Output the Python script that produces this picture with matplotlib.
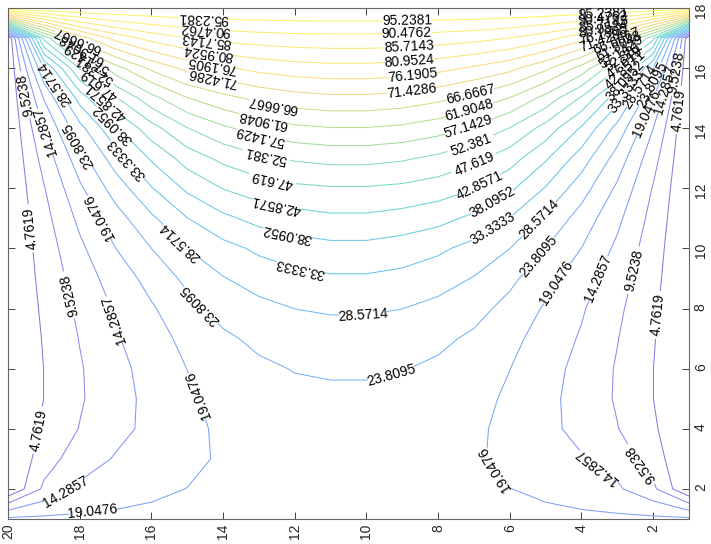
import numpy as np
import matplotlib
matplotlib.use('Agg')
import matplotlib.pyplot as plt
from matplotlib.colors import LinearSegmentedColormap

plt.rcParams['font.family'] = ['Liberation Sans', 'DejaVu Sans']

# grid: x = 1..20 (columns), y = 1..18 (rows)
x_vals = np.arange(1, 21)
y_vals = np.arange(1, 19)

# field values, one list per row (y = 1 .. 18)
z_y01 = [20, 20, 20, 20, 20, 20, 20, 20, 20, 20, 20, 20, 20, 20, 20, 20, 20, 20, 20, 20]
z_y02 = [0, 10.5, 15.0, 17.0, 18.3, 19.1, 19.7, 20.2, 20.5, 20.7, 20.7, 20.5, 20.2, 19.7, 19.1, 18.3, 17.0, 15.0, 10.5, 0]
z_y03 = [0, 7.1, 12.3, 14.6, 16.3, 18.0, 19.6, 20.4, 20.9, 21.2, 21.2, 20.9, 20.4, 19.6, 18.0, 16.3, 14.6, 12.3, 7.1, 0]
z_y04 = [0, 5.5, 9.7, 13.1, 15.3, 17.8, 19.9, 21.0, 21.6, 22.0, 22.0, 21.6, 21.0, 19.9, 17.8, 15.3, 13.1, 9.7, 5.5, 0]
z_y05 = [0, 4.8, 9.0, 12.6, 15.5, 18.3, 20.5, 22.0, 22.7, 23.0, 23.0, 22.7, 22.0, 20.5, 18.3, 15.5, 12.6, 9.0, 4.8, 0]
z_y06 = [0, 4.8, 9.1, 12.9, 16.0, 19.1, 21.3, 23.0, 24.0, 24.3, 24.3, 24.0, 23.0, 21.3, 19.1, 16.0, 12.9, 9.1, 4.8, 0]
z_y07 = [0, 5.1, 9.7, 13.8, 17.0, 20.4, 23.0, 24.8, 26.0, 26.6, 26.6, 26.0, 24.8, 23.0, 20.4, 17.0, 13.8, 9.7, 5.1, 0]
z_y08 = [0, 5.6, 10.5, 14.8, 18.5, 22.3, 25.4, 27.2, 28.6, 29.1, 29.1, 28.6, 27.2, 25.4, 22.3, 18.5, 14.8, 10.5, 5.6, 0]
z_y09 = [0, 6.2, 11.8, 16.4, 20.7, 24.9, 28.3, 30.6, 32.0, 32.7, 32.7, 32.0, 30.6, 28.3, 24.9, 20.7, 16.4, 11.8, 6.2, 0]
z_y10 = [0, 6.9, 13.3, 19.0, 23.8, 28.6, 31.8, 34.2, 35.8, 36.7, 36.7, 35.8, 34.2, 31.8, 28.6, 23.8, 19.0, 13.3, 6.9, 0]
z_y11 = [0, 7.9, 15.4, 21.8, 27.7, 33.2, 37.0, 39.6, 41.0, 41.9, 41.9, 41.0, 39.6, 37.0, 33.2, 27.7, 21.8, 15.4, 7.9, 0]
z_y12 = [0, 9.2, 18.2, 25.9, 33.0, 39.0, 43.0, 45.3, 46.6, 47.2, 47.2, 46.6, 45.3, 43.0, 39.0, 33.0, 25.9, 18.2, 9.2, 0]
z_y13 = [0, 11.3, 21.8, 31.0, 38.7, 45.0, 48.8, 51.3, 53.0, 53.8, 53.8, 53.0, 51.3, 48.8, 45.0, 38.7, 31.0, 21.8, 11.3, 0]
z_y14 = [0, 14.3, 27.0, 37.5, 45.8, 52.2, 56.3, 59.2, 60.9, 61.7, 61.7, 60.9, 59.2, 56.3, 52.2, 45.8, 37.5, 27.0, 14.3, 0]
z_y15 = [0, 19.3, 35.2, 47.0, 55.5, 61.7, 65.2, 67.8, 69.5, 70.3, 70.3, 69.5, 67.8, 65.2, 61.7, 55.5, 47.0, 35.2, 19.3, 0]
z_y16 = [0, 28.3, 48.0, 60.1, 67.7, 72.8, 75.5, 77.6, 78.8, 79.4, 79.4, 78.8, 77.6, 75.5, 72.8, 67.7, 60.1, 48.0, 28.3, 0]
z_y17 = [0, 49.0, 69.1, 77.9, 82.7, 85.7, 87.3, 88.2, 88.8, 89.0, 89.0, 88.8, 88.2, 87.3, 85.7, 82.7, 77.9, 69.1, 49.0, 0]
z_y18 = [100, 100, 100, 100, 100, 100, 100, 100, 100, 100, 100, 100, 100, 100, 100, 100, 100, 100, 100, 100]

levels = [4.7619, 9.5238, 14.2857, 19.0476, 23.8095, 28.5714, 33.3333, 38.0952,
          42.8571, 47.619, 52.381, 57.1429, 61.9048, 66.6667, 71.4286, 76.1905,
          80.9524, 85.7143, 90.4762, 95.2381]

# where the inline labels sit (level, x, y)
label_spots = [
    (95.2381, 8.87, 17.53), (90.4762, 8.87, 17.1), (85.7143, 8.8, 16.64),
    (80.9524, 8.8, 16.2), (76.1905, 8.7, 15.74), (71.4286, 8.75, 15.27),
    (95.2381, 14.56, 17.67), (90.4762, 14.5, 17.2), (85.7143, 14.5, 16.77),
    (80.9524, 14.45, 16.34), (76.1905, 14.35, 15.87), (71.4286, 14.3, 15.6),
    (95.2381, 3.4, 17.85), (90.4762, 3.4, 17.68), (85.7143, 3.4, 17.5),
    (80.9524, 3.4, 17.32), (76.1905, 3.4, 17.15), (71.4286, 3.4, 16.95),
    (66.6667, 3.0, 16.85), (61.9048, 2.9, 16.65), (57.1429, 2.85, 16.45),
    (52.381, 2.75, 16.25), (47.619, 2.7, 16.05), (42.8571, 2.65, 15.8),
    (38.0952, 2.7, 15.5), (33.3333, 2.73, 15.2), (28.5714, 2.45, 15.45),
    (23.8095, 2.1, 15.5), (19.0476, 2.17, 14.5), (14.2857, 1.75, 15.3),
    (9.5238, 1.55, 15.9), (4.7619, 1.25, 14.6),
    (66.6667, 18.07, 16.93), (61.9048, 18.0, 16.45), (57.1429, 17.9, 16.1),
    (52.381, 17.71, 15.77), (47.619, 17.49, 15.37), (42.8571, 17.2, 14.94),
    (38.0952, 16.96, 14.27), (33.3333, 16.79, 12.88), (28.5714, 18.69, 15.5),
    (23.8095, 18.05, 13.44), (14.2857, 18.83, 13.94), (9.5238, 19.6, 15.1),
    (19.0476, 17.52, 11.01), (4.7619, 19.3, 10.68), (28.5714, 15.14, 10.28),
    (23.8095, 14.59, 8.19), (9.5238, 18.33, 8.45), (14.2857, 17.1, 7.62),
    (4.7619, 19.16, 3.96), (19.0476, 14.67, 5.13), (14.2857, 18.41, 1.96),
    (19.0476, 17.63, 1.23),
    (66.6667, 12.6, 14.84), (61.9048, 12.88, 14.34), (57.1429, 12.97, 13.77),
    (52.381, 12.8, 13.1), (47.619, 12.6, 12.44), (42.8571, 12.5, 11.58),
    (38.0952, 12.2, 10.6), (33.3333, 11.85, 9.38),
    (28.5714, 10.1, 7.75), (23.8095, 9.29, 5.69),
    (66.6667, 7.1, 15.14), (61.9048, 7.11, 14.54), (57.1429, 7.16, 14.04),
    (52.381, 7.1, 13.5), (47.619, 7.05, 12.94), (42.8571, 6.97, 12.34),
    (38.0952, 6.6, 11.78), (33.3333, 6.5, 10.71), (28.5714, 5.16, 10.95),
    (23.8095, 5.16, 9.72), (19.0476, 4.6, 8.78), (14.2857, 3.57, 9.02),
    (9.5238, 2.56, 9.28), (4.7619, 1.89, 7.79),
    (19.0476, 6.33, 2.76), (14.2857, 3.57, 2.73), (9.5238, 2.37, 2.8),
]

# parula-like colormap
parula = LinearSegmentedColormap.from_list('parula', [
    (0.000, (0.2422, 0.1504, 0.6603)),
    (0.110, (0.2810, 0.3228, 0.9579)),
    (0.240, (0.1707, 0.5293, 0.9584)),
    (0.370, (0.0700, 0.6900, 0.8400)),
    (0.500, (0.2161, 0.7843, 0.5923)),
    (0.625, (0.6000, 0.7900, 0.3000)),
    (0.750, (0.9970, 0.7659, 0.2199)),
    (0.875, (0.9619, 0.8899, 0.1537)),
    (1.000, (0.9769, 0.9839, 0.0805))])
line_colors = []
for lev in levels:
    c = np.array(parula(lev / 100.0)[:3])
    line_colors.append(tuple(c * 0.65 + 0.35))

Z = np.array([z_y01, z_y02, z_y03, z_y04, z_y05, z_y06, z_y07, z_y08, z_y09,
              z_y10, z_y11, z_y12, z_y13, z_y14, z_y15, z_y16, z_y17, z_y18])
X, Y = np.meshgrid(x_vals, y_vals)

fig = plt.figure(figsize=(7.11, 5.44), dpi=100)
ax = fig.add_axes([8 / 711, 25 / 544, 681 / 711, 511 / 544])

cs = ax.contour(X, Y, Z, levels=levels, colors=line_colors, linewidths=0.75)
ax.set_xlim(20, 1)
ax.set_ylim(1, 18)

# set up label state once, then place each label on its own level
cs.clabel(fmt='%g', fontsize=10, colors='k', manual=[])
for lev, lx, ly in label_spots:
    cs.labelIndiceList = [levels.index(lev)]
    cs.add_label_near(lx, ly, inline=True, inline_spacing=3)

# the picture is a rotated figure, so labels keep the turned orientation
for t in cs.labelTexts:
    r = t.get_rotation()
    if 270 < r < 360:
        t.set_rotation(r - 180)

ax.set_xticks(range(2, 21, 2))
ax.set_yticks(range(2, 19, 2))
ax.tick_params(direction='in', length=5, width=0.6, colors='#262626', labelsize=10,
               top=True, right=True, left=True, bottom=True,
               labelleft=False, labelright=True)
for lab in ax.get_xticklabels():
    lab.set_rotation(90)
for lab in ax.get_yticklabels():
    lab.set_rotation(90)
for sp in ax.spines.values():
    sp.set_color('#666666')
    sp.set_linewidth(0.8)

fig.savefig('out.png', dpi=100)
